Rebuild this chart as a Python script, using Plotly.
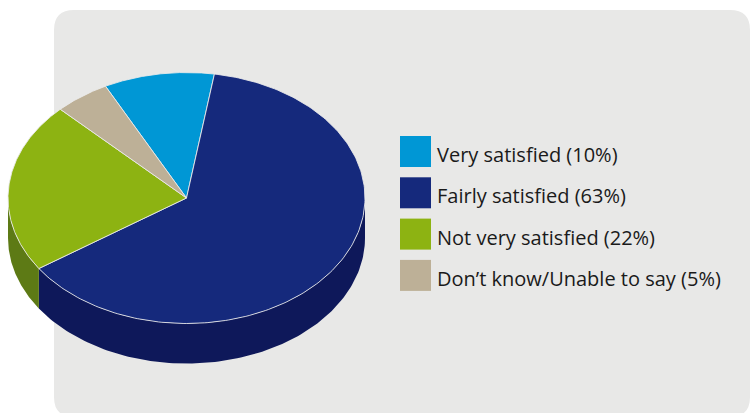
import numpy as np
import plotly.graph_objects as go

# ---- data ----
categories = ["Very satisfied", "Fairly satisfied", "Not very satisfied", "Don\u2019t know/Unable to say"]
values = [10, 63, 22, 5]
top_colors = ["#0097d5", "#15297c", "#8db312", "#bdb097"]
side_colors = ["#006c99", "#0e185a", "#5d7a15", "#8a7f6b"]
legend_labels = [f"{c} ({v}%)" for c, v in zip(categories, values)]

# ---- geometry (pixels) ----
W, H = 750, 413
cx, cy = 186.5, 198.0
rx, ry = 178.5, 125.5
depth = 40.0
start_deg = -27.0  # clockwise from top


def rim(theta_deg):
    t = np.radians(theta_deg)
    return cx + rx * np.sin(t), cy - ry * np.cos(t)


fig = go.Figure()

total = float(sum(values))
bounds = []
a = start_deg
for v in values:
    b = a + 360.0 * v / total
    bounds.append((a, b))
    a = b

# sides (visible front half: 90..270 deg)
for (a, b), col in zip(bounds, side_colors):
    for shift in (0, 360, -360):
        lo, hi = max(a + shift, 90), min(b + shift, 270)
        if hi > lo:
            th = np.linspace(lo, hi, 120)
            xs, ys = rim(th)
            px = np.concatenate([xs, xs[::-1]])
            py = np.concatenate([ys, ys[::-1] + depth])
            fig.add_trace(go.Scatter(x=px, y=py, fill="toself", fillcolor=col,
                                     mode="lines", line=dict(width=0),
                                     hoverinfo="skip", showlegend=False))

# top face
for (a, b), col in zip(bounds, top_colors):
    th = np.linspace(a, b, 200)
    xs, ys = rim(th)
    px = np.concatenate([[cx], xs, [cx]])
    py = np.concatenate([[cy], ys, [cy]])
    fig.add_trace(go.Scatter(x=px, y=py, fill="toself", fillcolor=col,
                             mode="lines", line=dict(width=1, color="rgba(235,235,235,0.85)"),
                             hoverinfo="skip", showlegend=False))

# legend (custom)
leg_x = 415.5
leg_y0 = 151.5
leg_dy = 41.3
ly = [leg_y0 + i * leg_dy for i in range(len(categories))]
fig.add_trace(go.Scatter(x=[leg_x] * len(ly), y=ly, mode="markers",
                         marker=dict(symbol="square", size=31, color=top_colors, line=dict(width=0)),
                         hoverinfo="skip", showlegend=False))
for yy, txt in zip(ly, legend_labels):
    fig.add_annotation(x=435, y=yy + 3, text=txt, showarrow=False, xanchor="left", yanchor="middle",
                       font=dict(family="Open Sans", size=20, color="#1a1a1a"))

# panel
fig.add_shape(type="path", layer="below", line=dict(width=0), fillcolor="#e8e8e7",
              path="M 74,10 H 730 Q 750,10 750,30 V 397 Q 750,417 730,417 H 74 Q 54,417 54,397 V 30 Q 54,10 74,10 Z")

fig.update_layout(width=W, height=H, autosize=False, margin=dict(l=0, r=0, t=0, b=0),
                  paper_bgcolor="white", plot_bgcolor="white",
                  xaxis=dict(range=[0, W], visible=False, fixedrange=True),
                  yaxis=dict(range=[H, 0], visible=False, fixedrange=True),
                  showlegend=False)

fig.write_html("out.html", config={"displayModeBar": False},
               post_script="document.body.style.margin='0px';document.body.style.overflow='hidden';")
